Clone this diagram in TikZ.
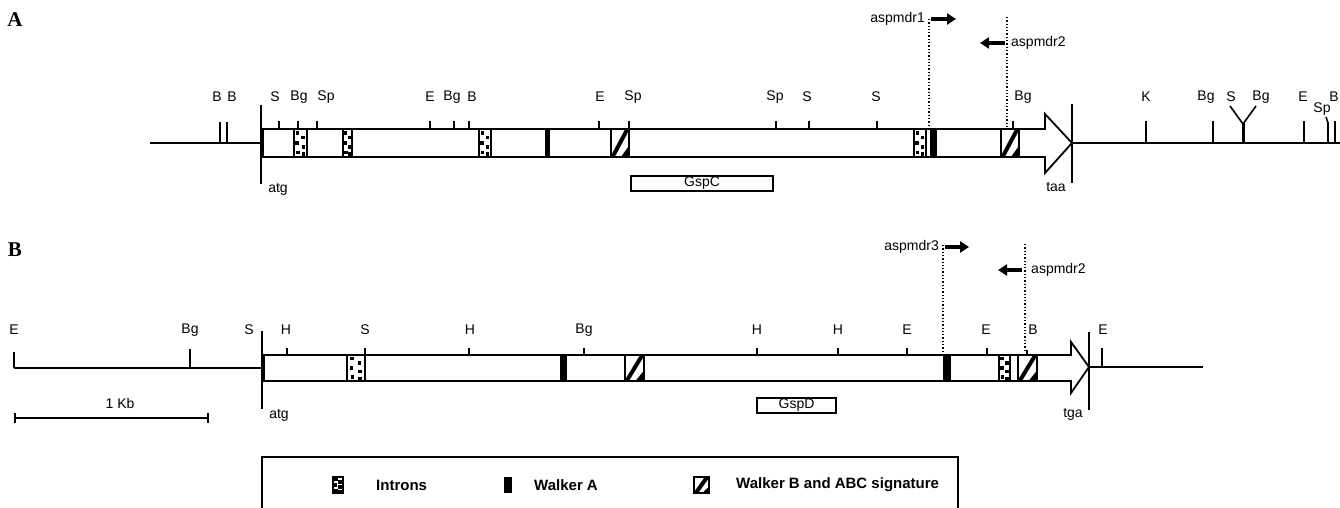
\documentclass[tikz,border=0pt]{standalone}
\usepackage{fontspec}
\setmainfont{Liberation Sans}
\newfontfamily\panelfont{Liberation Serif}
\usetikzlibrary{arrows.meta}

\tikzset{
  boxline/.style={line width=1.8pt, line join=miter},
  baseline/.style={line width=1.5pt},
  tickline/.style={line width=1.4pt},
  siteline/.style={line width=1.6pt},
  site/.style={font=\fontsize{14}{14}\selectfont, inner sep=0pt, anchor=center},
  primerlbl/.style={font=\fontsize{14}{14}\selectfont, inner sep=0pt},
  primerline/.style={line width=1.3pt, dotted},
  primerarrow/.style={line width=4.5pt, -{Triangle[length=9pt,width=11pt]}},
  panel/.style={font=\panelfont\bfseries\fontsize{21}{21}\selectfont, inner sep=0pt},
  legendtxt/.style={font=\bfseries\fontsize{15}{15}\selectfont, inner sep=0pt, anchor=west},
  protbox/.style={line width=1.5pt, draw, fill=white},
}

\newcommand\intronbox[4]{%
  \draw[boxline, line width=1.6pt, fill=white] (#1,#3) rectangle (#2,#4);
  \foreach \fx/\fy in {0.28/0.14,0.7/0.3,0.25/0.5,0.72/0.64,0.3/0.84,0.72/0.9}{
    \fill ({#1+\fx*(#2-#1)-1.8},{#3+\fy*(#4-#3)-1.8}) rectangle ++(3.6,3.6);
  }}
\newcommand\hatchbox[4]{%
  \begin{scope}
    \clip (#1,#3) rectangle (#2,#4);
    \fill[white] (#1,#3) rectangle (#2,#4);
    \draw[line width=4pt] ({#1+1},{#4+1}) -- ({#2-1},{#3-1});
    \fill (#2,#4) -- ({#2-0.45*(#2-#1)},#4) -- (#2,{#4-0.4*(#4-#3)}) -- cycle;
  \end{scope}
  \draw[boxline, line width=1.6pt] (#1,#3) rectangle (#2,#4);}
\newcommand\walkerA[4]{\fill (#1,#3) rectangle (#2,#4);}

\begin{document}
\begin{tikzpicture}[x=1pt,y=-1pt]
\useasboundingbox (0,0) rectangle (1340,508);

% ================= Panel A =================
\node[panel] (pA) at (15,20) {A};

% flanking lines
\draw[baseline] (150,143) -- (262,143);
\draw[baseline] (1072,143) -- (1345,143);
% gene A
\draw[boxline, fill=white] (262,129) -- (1045,129) -- (1045,114) -- (1072,143)
  -- (1045,173) -- (1045,157) -- (262,157) -- cycle;
\draw[line width=1.6pt] (261,105) -- (261,184);
\draw[line width=3.5pt] (262.5,129) -- (262.5,157);
\draw[line width=1.6pt] (1072,104) -- (1072,183);
\node[site] (atgA) at (278,189) {atg};
\node[site] (taaA) at (1056,187) {taa};

% upstream sites
\draw[siteline] (220,122) -- (220,143);
\draw[siteline] (227,122) -- (227,143);
\node[site] (sA1) at (217,97) {B};
\node[site] (sA2) at (232,97) {B};
% ticks on gene A
\foreach \x in {279,298,317,430,454,469,599,629,776,809,877,1013}
  \draw[tickline] (\x,121) -- (\x,129);
\node[site] (sA3) at (275,97) {S};
\node[site] (sA4) at (299,97) {Bg};
\node[site] (sA5) at (326,97) {Sp};
\node[site] (sA6) at (430,97) {E};
\node[site] (sA7) at (452,97) {Bg};
\node[site] (sA8) at (472,97) {B};
\node[site] (sA9) at (600,97) {E};
\node[site] (sA10) at (633,97) {Sp};
\node[site] (sA11) at (775,97) {Sp};
\node[site] (sA12) at (807,97) {S};
\node[site] (sA13) at (876,97) {S};
\node[site] (sA14) at (1023,97) {Bg};
% motifs A
\intronbox{294}{307}{129}{157}
\intronbox{343}{352}{129}{157}
\intronbox{479}{491}{129}{157}
\walkerA{545}{550}{129}{157}
\hatchbox{611}{629}{129}{157}
\intronbox{914}{926}{129}{157}
\walkerA{930}{937}{129}{157}
\hatchbox{1001}{1019}{129}{157}
% downstream sites
\foreach \x in {1146,1213,1304,1335}
  \draw[siteline] (\x,121) -- (\x,143);
\draw[line width=3pt] (1243,143) -- (1243,123);
\draw[siteline] (1230,106) -- (1243,124) -- (1256,106);
\draw[siteline] (1328,143) -- (1328,123) -- (1326,117);
\node[site] (sA15) at (1146,97) {K};
\node[site] (sA16) at (1206,97) {Bg};
\node[site] (sA17) at (1231,97) {S};
\node[site] (sA18) at (1261,97) {Bg};
\node[site] (sA19) at (1303,97) {E};
\node[site] (sA20) at (1322,109) {Sp};
\node[site] (sA21) at (1334,97) {B};
% GspC
\node[protbox, minimum width=142pt, minimum height=15pt, inner sep=0pt,
  font=\fontsize{14}{14}\selectfont] (gspc) at (702,183.5) {\raisebox{-3pt}{GspC}};
% primers A
\coordinate (p1t) at (929,19);
\coordinate (p1b) at (929,128);
\coordinate (p2t) at (1007,17);
\coordinate (p2b) at (1007,128);
\draw[primerline] (p1t) -- (p1b);
\draw[primerline] (p2t) -- (p2b);
\coordinate (a1s) at (931,19);
\coordinate (a1e) at (956,19);
\coordinate (a2s) at (1005,43);
\coordinate (a2e) at (980,43);
\draw[primerarrow] (a1s) -- (a1e);
\draw[primerarrow] (a2s) -- (a2e);
\node[primerlbl, anchor=east] (pr1) at (925,19) {aspmdr1};
\node[primerlbl, anchor=west] (pr2) at (1011,43) {aspmdr2};

% ================= Panel B =================
\node[panel] (pB) at (15,250) {B};

\draw[baseline] (14,368) -- (262,368);
\draw[siteline] (14,352) -- (14,368);
\draw[siteline] (190,349) -- (190,368);
\draw[baseline] (1089,367) -- (1203,367);
\draw[siteline] (1102,348) -- (1102,367);
% gene B
\draw[boxline, fill=white] (262,355) -- (1071,355) -- (1071,342) -- (1089,367)
  -- (1071,393) -- (1071,381) -- (262,381) -- cycle;
\draw[line width=1.6pt] (262,331) -- (262,409);
\draw[line width=3.5pt] (263.5,355) -- (263.5,381);
\draw[line width=1.6pt] (1089,332) -- (1089,410);
\node[site] (atgB) at (279,415) {atg};
\node[site] (tgaB) at (1073,414) {tga};
% ticks on gene B
\foreach \x in {287,365,469,584,757,838,907,987}
  \draw[tickline] (\x,348) -- (\x,355);
\draw[tickline] (1027,350) -- (1027,355);
\node[site] (sB1) at (14,330) {E};
\node[site] (sB2) at (190,330) {Bg};
\node[site] (sB3) at (249,330) {S};
\node[site] (sB4) at (286,330) {H};
\node[site] (sB5) at (365,330) {S};
\node[site] (sB6) at (470,330) {H};
\node[site] (sB7) at (584,330) {Bg};
\node[site] (sB8) at (757,330) {H};
\node[site] (sB9) at (838,330) {H};
\node[site] (sB10) at (907,330) {E};
\node[site] (sB11) at (986,330) {E};
\node[site] (sB12) at (1033,330) {B};
\node[site] (sB13) at (1103,330) {E};
% motifs B
\intronbox{347}{365}{355}{381}
\walkerA{560}{567}{355}{381}
\hatchbox{625}{644}{355}{381}
\walkerA{943}{951}{355}{381}
\intronbox{999}{1010}{355}{381}
\hatchbox{1018}{1037}{355}{381}
% GspD
\node[protbox, minimum width=79pt, minimum height=15pt, inner sep=0pt,
  font=\fontsize{14}{14}\selectfont] (gspd) at (796.5,405.5) {\raisebox{-2pt}{GspD}};
% primers B
\coordinate (p3t) at (943,245);
\coordinate (p3b) at (943,352);
\coordinate (p4t) at (1025,244);
\coordinate (p4b) at (1025,352);
\draw[primerline] (p3t) -- (p3b);
\draw[primerline] (p4t) -- (p4b);
\coordinate (a3s) at (945,247);
\coordinate (a3e) at (969,247);
\coordinate (a4s) at (1022,270);
\coordinate (a4e) at (998,270);
\draw[primerarrow] (a3s) -- (a3e);
\draw[primerarrow] (a4s) -- (a4e);
\node[primerlbl, anchor=east] (pr3) at (939,247) {aspmdr3};
\node[primerlbl, anchor=west] (pr4) at (1031,270) {aspmdr2};

% scale bar
\coordinate (sbl) at (15,418);
\coordinate (sbr) at (208,418);
\draw[line width=1.4pt] (sbl) -- (sbr);
\draw[line width=1.4pt] (15,413) -- (15,423);
\draw[line width=1.4pt] (208,413) -- (208,423);
\node[site] (kb) at (120,403) {1 Kb};

% ================= Legend =================
\draw[line width=1.5pt] (262,515) -- (262,457) -- (958,457) -- (958,515);
\intronbox{333}{343}{477}{493}
\node[legendtxt] (l1) at (376,485) {Introns};
\walkerA{504}{512}{477}{493}
\node[legendtxt] (l2) at (534,485) {Walker A};
\hatchbox{694}{709}{477}{493}
\node[legendtxt] (l3) at (736,485) {Walker B and ABC signature};
\end{tikzpicture}
\end{document}
